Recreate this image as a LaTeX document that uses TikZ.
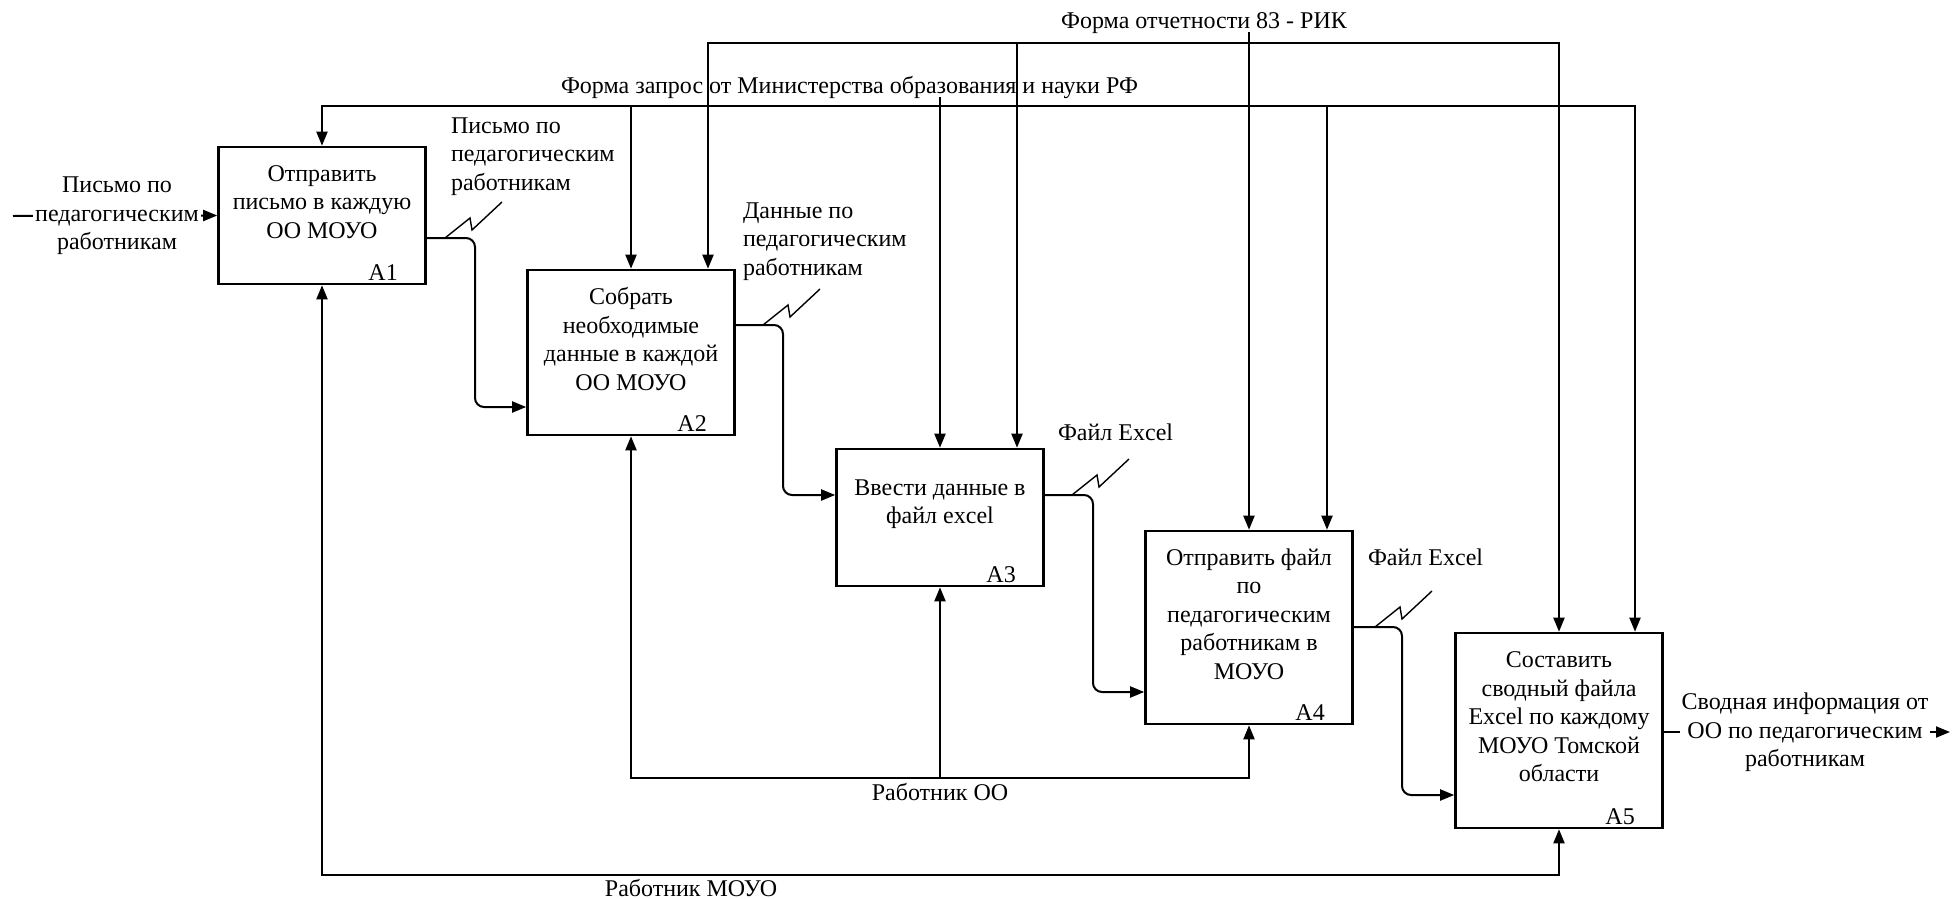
\documentclass[tikz,border=0pt]{standalone}
\usepackage{fontspec}
\setmainfont{Liberation Serif}
\usetikzlibrary{arrows.meta,calc}
\begin{document}
\begin{tikzpicture}[x=1pt,y=-1pt,
  line width=2pt,
  tip/.tip={Triangle[length=14pt,width=11pt]},
  arr/.style={-tip},
  arrboth/.style={tip-tip},
  func/.style={draw, line width=2.6pt, fill=white, minimum width=207pt, inner sep=0pt},
  txt/.style={font=\fontsize{24}{28.5}\selectfont, inner sep=0pt},
  ftext/.style={txt, align=center},
  ltext/.style={txt, align=left, anchor=west},
  blank/.style={txt, align=center, fill=white, inner sep=2pt},
  corner/.style={rounded corners=9pt}
]
\useasboundingbox (0,0) rectangle (1955,899);

% ---- function boxes ----
\node[func, minimum height=137pt] (A1) at (322,215.5) {};
\node[func, minimum height=165pt] (A2) at (631,352.5) {};
\node[func, minimum height=137pt] (A3) at (940,517.5) {};
\node[func, minimum height=193pt] (A4) at (1249,627.5) {};
\node[func, minimum height=195pt] (A5) at (1559,730.5) {};

\node[ftext] (A1t) at ($(A1.center)+(0,-13.5)$) {Отправить\\письмо в каждую\\ОО МОУО};
\node[ftext] (A2t) at ($(A2.center)+(0,-13.5)$) {Собрать\\необходимые\\данные в каждой\\ОО МОУО};
\node[ftext] (A3t) at ($(A3.center)+(0,-13.5)$) {Ввести данные в\\файл excel};
\node[ftext] (A4t) at ($(A4.center)+(0,-13.5)$) {Отправить файл\\по\\педагогическим\\работникам в\\МОУО};
\node[ftext] (A5t) at ($(A5.center)+(0,-13.5)$) {Составить\\сводный файла\\Excel по каждому\\МОУО Томской\\области};

\foreach \b in {1,...,5}{
  \node[txt, anchor=base east] (A\b n) at ($(A\b.south east)+(-28,-5)$) {A\b};
}

% ---- levels of the horizontal runs ----
\coordinate (rk) at (0,43);    % report form line
\coordinate (mn) at (0,106);   % ministry request line
\coordinate (oo) at (0,778);   % OO worker line
\coordinate (mo) at (0,875);   % MOUO worker line
\coordinate (c2) at (708,0);
\coordinate (c3) at (1017,0);
\coordinate (c4) at (1327,0);
\coordinate (c5) at (1635,0);

% ---- controls: ministry request ----
\draw[arrboth] (A1.north) -- (A1.north |- mn) -- (c5 |- mn) -- (c5 |- A5.north);
\draw[arr] (A2.north |- mn) -- (A2.north);
\draw[arr] (c4 |- mn) -- (c4 |- A4.north);
\coordinate (mlbl) at (940,97);
\draw[arr] (mlbl) -- (A3.north);

% ---- controls: report form 83-RIK ----
\draw[arrboth] (c2 |- A2.north) -- (c2 |- rk) -- (A5.north |- rk) -- (A5.north);
\draw[arr] (c3 |- rk) -- (c3 |- A3.north);
\coordinate (rlbl) at (1249,32);
\draw[arr] (rlbl) -- (A4.north);

% ---- mechanisms ----
\draw[arrboth] (A2.south) -- (A2.south |- oo) -- (A4.south |- oo) -- (A4.south);
\draw[arr] (A3.south |- oo) -- (A3.south);
\draw[arrboth] (A1.south) -- (A1.south |- mo) -- (A5.south |- mo) -- (A5.south);

% ---- outputs feeding the next function ----
\coordinate (o1) at (475,238);  \coordinate (i2) at (0,407);
\coordinate (o2) at (783,325);  \coordinate (i3) at (0,495);
\coordinate (o3) at (1093,495); \coordinate (i4) at (0,692);
\coordinate (o4) at (1402,627); \coordinate (i5) at (0,795);
\draw[arr, corner] (A1.east |- o1) -| (o1 |- i2) -- (A2.west |- i2);
\draw[arr, corner] (A2.east |- o2) -| (o2 |- i3) -- (A3.west |- i3);
\draw[arr, corner] (A3.east |- o3) -| (o3 |- i4) -- (A4.west |- i4);
\draw[arr, corner] (A4.east |- o4) -| (o4 |- i5) -- (A5.west |- i5);

% ---- squiggles tying labels to arrows ----
\coordinate (s1) at (445,238);
\coordinate (s2) at (763,325);
\coordinate (s3) at (1072,495);
\coordinate (s4) at (1375,627);
\foreach \s in {s1,s2,s3,s4}{
  \draw[line width=1.4pt] (\s) -- ++(25,-20) -- ++(2,12) -- ++(30,-28);
}

% ---- external input and output ----
\coordinate (inL) at (13,216);
\draw[arr] (inL) -- (A1.west);
\node[blank] (inT) at (117,216) {Письмо по\\педагогическим\\работникам};

\coordinate (outR) at (1950,732);
\draw[arr] (A5.east |- outR) -- (outR);
\node[blank] (outT) at (1805,732.5) {Сводная информация от\\ОО по педагогическим\\работникам};

% ---- arrow labels ----
\node[txt, anchor=base] (rkT) at (1204,29) {Форма отчетности 83 - РИК};
\node[txt, anchor=base west] (mnT) at (560,94) {Форма запрос от Министерства образования и науки РФ};
\node[ltext] (l1) at (450,156.5) {Письмо по\\педагогическим\\работникам};
\node[ltext] (l2) at (742,241.5) {Данные по\\педагогическим\\работникам};
\node[ltext] (l3) at (1057,432) {Файл Excel};
\node[ltext] (l4) at (1367,557) {Файл Excel};
\node[txt, anchor=base] (ooT) at (940,800) {Работник ОО};
\node[txt, anchor=base] (moT) at (691,896) {Работник МОУО};
\end{tikzpicture}
\end{document}
